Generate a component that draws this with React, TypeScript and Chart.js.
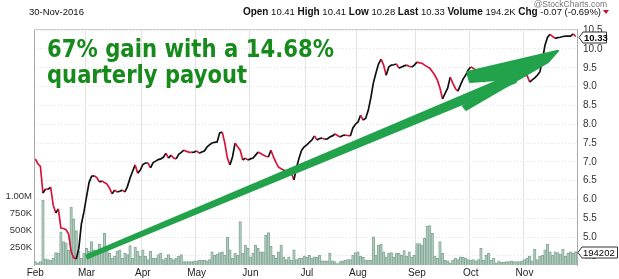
import { useEffect, useRef } from 'react';
import { Chart, registerables } from 'chart.js';

Chart.register(...registerables);

// ---- data ----
const months = ['Feb', 'Mar', 'Apr', 'May', 'Jun', 'Jul', 'Aug', 'Sep', 'Oct', 'Nov'];
const tradingDays = [20, 22, 21, 21, 22, 20, 23, 21, 21, 21];

const closes = [
  // Feb
  7.08, 6.95, 6.88, 6.17, 6.28, 6.27, 6.33, 5.85, 5.64, 5.75, 5.24, 5.23, 5.2, 5.08, 4.62, 4.45, 4.42, 4.7, 5.35, 5.67,
  // Mar
  6.07, 6.45, 6.62, 6.63, 6.58, 6.47, 6.49, 6.45, 6.41, 6.3, 6.15, 6.25, 6.2, 6.22, 6.25, 6.2, 6.35, 6.57, 6.75, 6.92, 6.7, 6.78,
  // Apr
  6.93, 6.97, 6.97, 6.84, 6.98, 7.02, 7.06, 7.08, 7.12, 7.23, 7.1, 7.18, 7.1, 7.08, 7.2, 7.25, 7.31, 7.28, 7.26, 7.25, 7.26,
  // May
  7.29, 7.23, 7.26, 7.29, 7.39, 7.45, 7.5, 7.52, 7.53, 7.77, 7.79, 7.5, 7.1, 6.92, 7.13, 7.5, 7.4, 7.31, 7.05, 7.1, 7.05,
  // Jun
  7.08, 7.1, 7.18, 7.26, 7.22, 7.18, 7.15, 7.13, 7.31, 7.13, 6.98, 6.86, 6.82, 6.78, 6.76, 6.74, 6.7, 6.52, 6.85, 7.1, 7.31, 7.4,
  // Jul
  7.45, 7.52, 7.58, 7.69, 7.58, 7.62, 7.63, 7.6, 7.61, 7.66, 7.69, 7.74, 7.7, 7.66, 7.7, 7.71, 7.7, 7.69, 7.9, 8.0,
  // Aug
  8.06, 8.24, 8.11, 8.16, 8.37, 8.7, 9.1, 9.36, 9.6, 9.73, 9.57, 9.3, 9.52, 9.57, 9.58, 9.6, 9.49, 9.52, 9.55, 9.57, 9.54, 9.52, 9.57,
  // Sep
  9.65, 9.63, 9.62, 9.57, 9.53, 9.49, 9.4, 9.3, 9.17, 8.96, 8.67, 8.82, 8.96, 9.25, 9.09, 8.95, 8.88, 9.04, 9.2, 9.3, 9.44,
  // Oct
  9.52, 9.49, 9.44, 9.36, 9.3, 9.12, 9.2, 9.28, 9.22, 9.3, 9.25, 9.18, 9.22, 9.15, 9.12, 9.1, 9.09, 9.15, 9.2, 9.28, 9.3,
  // Nov
  9.3, 9.3, 9.12, 9.18, 9.23, 9.3, 9.39, 9.7, 10.1, 10.31, 10.39, 10.33, 10.28, 10.3, 10.31, 10.33, 10.34, 10.34, 10.34, 10.4, 10.33,
];

// volume in thousands of shares
const volumesK = [
  // Feb
  50, 30, 50, 940, 90, 80, 70, 100, 180, 170, 480, 340, 320, 220, 840, 670, 500, 200, 100, 170,
  // Mar
  240, 200, 340, 220, 170, 300, 200, 460, 240, 170, 100, 130, 200, 220, 100, 170, 150, 280, 100, 260, 200, 130,
  // Apr
  220, 130, 80, 200, 100, 100, 150, 170, 80, 100, 150, 100, 80, 100, 130, 150, 50, 50, 50, 50, 60,
  // May
  60, 70, 70, 70, 60, 80, 190, 140, 160, 180, 190, 140, 400, 220, 100, 170, 140, 630, 170, 290, 240,
  // Jun
  120, 170, 290, 240, 190, 190, 430, 470, 270, 140, 100, 190, 290, 120, 80, 120, 70, 220, 80, 100, 100, 130,
  // Jul
  110, 140, 100, 120, 110, 140, 60, 60, 60, 170, 60, 50, 20, 50, 60, 70, 80, 80, 140, 180,
  // Aug
  190, 130, 110, 70, 70, 70, 410, 140, 290, 300, 190, 120, 170, 180, 120, 170, 170, 140, 210, 130, 190, 120, 140,
  // Sep
  310, 310, 290, 390, 560, 570, 460, 130, 100, 340, 170, 70, 60, 30, 70, 100, 80, 120, 110, 100, 80,
  // Oct
  70, 80, 60, 80, 240, 70, 140, 170, 70, 100, 30, 60, 40, 40, 50, 50, 60, 50, 50, 50, 60,
  // Nov
  80, 100, 130, 60, 230, 80, 130, 140, 220, 300, 190, 140, 190, 180, 160, 230, 130, 170, 190, 170, 194.202,
];

const priceTicks = [4.5, 5.0, 5.5, 6.0, 6.5, 7.0, 7.5, 8.0, 8.5, 9.0, 9.5, 10.0, 10.5];
const volumeTicks = [250000, 500000, 750000, 1000000];
const volumeTickLabels = ['250K', '500K', '750K', '1.00M'];

const headerDate = '30-Nov-2016';
const headerItems: [string, string][] = [
  ['Open', '10.41'],
  ['High', '10.41'],
  ['Low', '10.28'],
  ['Last', '10.33'],
  ['Volume', '194.2K'],
  ['Chg', '-0.07 (-0.69%)'],
];
const watermark = '@StockCharts.com';
const lastPriceLabel = '10.33';
const lastVolume = 194202;
const noteLines = ['67% gain with a 14.68%', 'quarterly payout'];

// hand-drawn arrow, in (trading-day index, price) units
const arrowShaftStart = [19.8, 4.47];
const arrowShaftEnd = [187.3, 9.23];
const arrowHead = [
  [204.1, 9.95],
  [168.6, 9.39],
  [169.7, 9.12],
  [185.4, 9.2],
  [167.0, 8.48],
  [168.2, 8.38],
  [200.2, 9.65],
];

// ---- derived tables ----
const labels: string[] = [];
const monthStart = new Map<number, string>();
months.forEach((m, k) => {
  for (let j = 0; j < tradingDays[k]; j++) {
    if (j === 0) monthStart.set(labels.length, m);
    labels.push(`${m}-${j + 1}`);
  }
});
const volumes = volumesK.map((v) => v * 1000);

const FONT = '"Liberation Sans", Arial, sans-serif';
const RED = '#d8143a';
const BLACK = '#111111';
const GREEN_ARROW = '#22a24a';
const GREEN_TEXT = '#178a1c';

const overlayPlugin = {
  id: 'overlay',
  beforeDatasetsDraw(chart: any) {
    const { ctx, chartArea } = chart;
    ctx.save();
    ctx.strokeStyle = '#cfcfcf';
    ctx.lineWidth = 1;
    ctx.beginPath();
    ctx.moveTo(chartArea.left, chartArea.top + 0.5);
    ctx.lineTo(chartArea.right, chartArea.top + 0.5);
    ctx.stroke();
    ctx.restore();
  },
  afterDatasetsDraw(chart: any) {
    const { ctx, chartArea } = chart;
    const xs = chart.scales.x;
    const ys = chart.scales.y;
    const P = (pt: number[]) => [xs.getPixelForValue(pt[0]), ys.getPixelForValue(pt[1])];

    ctx.save();
    // arrow shaft (tapered)
    const a = P(arrowShaftStart);
    const b = P(arrowShaftEnd);
    const dx = b[0] - a[0];
    const dy = b[1] - a[1];
    const len = Math.hypot(dx, dy);
    const nx = -dy / len;
    const ny = dx / len;
    const w0 = 2.6;
    const w1 = 5.2;
    ctx.fillStyle = GREEN_ARROW;
    ctx.beginPath();
    ctx.moveTo(a[0] + nx * w0, a[1] + ny * w0);
    ctx.lineTo(b[0] + nx * w1, b[1] + ny * w1);
    ctx.lineTo(b[0] - nx * w1, b[1] - ny * w1);
    ctx.lineTo(a[0] - nx * w0, a[1] - ny * w0);
    ctx.closePath();
    ctx.fill();
    // arrow head
    ctx.beginPath();
    arrowHead.forEach((pt, k) => {
      const q = P(pt);
      if (k === 0) ctx.moveTo(q[0], q[1]);
      else ctx.lineTo(q[0], q[1]);
    });
    ctx.closePath();
    ctx.fill();
    ctx.lineJoin = 'round';
    ctx.strokeStyle = GREEN_ARROW;
    ctx.lineWidth = 2;
    ctx.stroke();

    // handwritten note
    ctx.fillStyle = GREEN_TEXT;
    ctx.font = 'bold 25px "DejaVu Sans"';
    ctx.textBaseline = 'alphabetic';
    ctx.textAlign = 'left';
    const targets = [287, 200];
    const baselines = [chartArea.top + 28, chartArea.top + 54];
    noteLines.forEach((line, k) => {
      const w = ctx.measureText(line).width;
      ctx.save();
      ctx.translate(chartArea.left + 13, baselines[k]);
      ctx.scale(targets[k] / w, 1);
      ctx.fillText(line, 0, 0);
      ctx.restore();
    });
    ctx.restore();
  },
  afterDraw(chart: any) {
    const { ctx, chartArea } = chart;
    const ys = chart.scales.y;
    const yv = chart.scales.yv;
    ctx.save();
    // watermark
    ctx.fillStyle = '#777';
    ctx.font = `8.5px ${FONT}`;
    ctx.textAlign = 'right';
    ctx.textBaseline = 'middle';
    ctx.fillText(watermark, 607, 4.5);

    // header
    const hy = 12;
    ctx.fillStyle = '#111';
    ctx.font = `9.5px ${FONT}`;
    ctx.textAlign = 'left';
    ctx.fillText(headerDate, 29, hy);
    const pieces: [string, boolean][] = [];
    headerItems.forEach(([k, v], idx) => {
      pieces.push([k, true]);
      pieces.push([' ' + v + (idx < headerItems.length - 1 ? ' ' : ''), false]);
    });
    const fontOf = (bold: boolean) => (bold ? `bold 10px ${FONT}` : `9.5px ${FONT}`);
    let total = 0;
    pieces.forEach(([t, bold]) => {
      ctx.font = fontOf(bold);
      total += ctx.measureText(t).width;
    });
    let x = 601 - total;
    pieces.forEach(([t, bold]) => {
      ctx.font = fontOf(bold);
      ctx.fillText(t, x, hy);
      x += ctx.measureText(t).width;
    });
    ctx.fillStyle = '#c8102e';
    ctx.beginPath();
    ctx.moveTo(603, hy - 2);
    ctx.lineTo(609, hy - 2);
    ctx.lineTo(606, hy + 2);
    ctx.closePath();
    ctx.fill();

    // last price / last volume tags
    const tag = (yc: number, text: string, bold: boolean, x0: number, x1: number) => {
      ctx.beginPath();
      ctx.moveTo(x0, yc);
      ctx.lineTo(x0 + 4, yc - 5.5);
      ctx.lineTo(x1, yc - 5.5);
      ctx.lineTo(x1, yc + 5.5);
      ctx.lineTo(x0 + 4, yc + 5.5);
      ctx.closePath();
      ctx.fillStyle = '#fff';
      ctx.fill();
      ctx.strokeStyle = '#333';
      ctx.lineWidth = 1;
      ctx.stroke();
      ctx.fillStyle = '#000';
      ctx.font = bold ? `bold 9.5px ${FONT}` : `9.5px ${FONT}`;
      ctx.textAlign = 'left';
      ctx.textBaseline = 'middle';
      ctx.fillText(text, x0 + 5, yc + 0.5);
    };
    const yp = Math.round(ys.getPixelForValue(closes[closes.length - 1])) + 0.5;
    tag(yp, lastPriceLabel, true, chartArea.right + 2, 606.5);
    const yvol = Math.round(yv.getPixelForValue(lastVolume)) + 0.5;
    tag(yvol, String(lastVolume), false, chartArea.right + 1, 617.5);
    ctx.restore();
  },
};

export default function App() {
  const canvasRef = useRef<HTMLCanvasElement | null>(null);

  useEffect(() => {
    document.body.style.margin = '0';
    const canvas = canvasRef.current;
    if (!canvas) return;
    const chart = new Chart(canvas, {
      data: {
        labels,
        datasets: [
          {
            type: 'line',
            data: closes,
            yAxisID: 'y',
            order: 1,
            borderWidth: 1.7,
            pointRadius: 0,
            tension: 0,
            borderColor: BLACK,
            segment: {
              borderColor: (c: any) => (c.p1.parsed.y < c.p0.parsed.y ? RED : BLACK),
            },
          } as any,
          {
            type: 'bar',
            data: volumes,
            yAxisID: 'yv',
            order: 2,
            backgroundColor: '#b3cdc0',
            borderColor: '#86a998',
            borderWidth: 1,
            borderSkipped: 'bottom',
            barPercentage: 1,
            categoryPercentage: 1,
          } as any,
        ],
      },
      options: {
        responsive: false,
        animation: false,
        devicePixelRatio: 1,
        layout: { padding: { top: 29, left: 0, right: 0, bottom: 0 } },
        plugins: { legend: { display: false }, tooltip: { enabled: false } },
        scales: {
          x: {
            type: 'category',
            offset: true,
            afterFit: (s: any) => {
              s.height = 14;
            },
            grid: {
              offset: true,
              drawTicks: false,
              color: (c: any) => (monthStart.has(c.index) ? '#e3e3e3' : 'rgba(0,0,0,0)'),
            },
            border: { display: false },
            ticks: {
              autoSkip: false,
              maxRotation: 0,
              padding: 2,
              color: '#222',
              font: { family: FONT, size: 10 },
              callback: (_v: any, i: number) => monthStart.get(i) ?? '',
            },
          },
          y: {
            type: 'linear',
            position: 'right',
            min: 4.26,
            max: 10.53,
            afterFit: (s: any) => {
              s.width = 42;
            },
            afterBuildTicks: (s: any) => {
              s.ticks = priceTicks.map((v) => ({ value: v }));
            },
            grid: { color: '#e3e3e3', drawTicks: false },
            border: { display: true, color: '#aaa', dash: [1, 2] },
            ticks: {
              padding: 6,
              color: '#333',
              font: { family: FONT, size: 10 },
              callback: (v: any) => Number(v).toFixed(1),
            },
          },
          yv: {
            type: 'linear',
            position: 'left',
            min: 0,
            max: 3420000,
            afterFit: (s: any) => {
              s.width = 34;
            },
            afterBuildTicks: (s: any) => {
              s.ticks = volumeTicks.map((v) => ({ value: v }));
            },
            grid: { display: false, drawTicks: false },
            border: { display: true, color: '#aaa' },
            ticks: {
              padding: 2,
              color: '#333',
              font: { family: FONT, size: 9.5 },
              callback: (v: any) => volumeTickLabels[volumeTicks.indexOf(Number(v))] ?? '',
            },
          },
        },
      },
      plugins: [overlayPlugin],
    } as any);
    return () => chart.destroy();
  }, []);

  return (
    <div style={{ position: 'fixed', left: 0, top: 0, width: 619, height: 279, background: '#fff' }}>
      <canvas ref={canvasRef} width={619} height={279} style={{ width: 619, height: 279, display: 'block' }} />
    </div>
  );
}
